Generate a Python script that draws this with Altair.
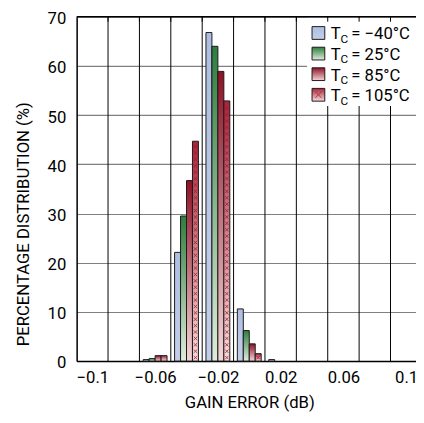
import altair as alt
import pandas as pd

# ---- data ----
bin_centers = [-0.06, -0.04, -0.02, 0.0, 0.02]
pct_m40 = [0.3, 22.1, 66.8, 10.6, 0.3]
pct_25 = [0.5, 29.5, 64.0, 6.2, 0.0]
pct_85 = [1.1, 36.7, 58.9, 3.5, 0.0]
pct_105 = [1.1, 44.7, 52.9, 1.5, 0.0]
series_labels = ["= \u221240\u00b0C", "= 25\u00b0C", "= 85\u00b0C", "= 105\u00b0C"]
x_label_values = [-0.1, -0.06, -0.02, 0.02, 0.06, 0.1]
x_grid_values = [-0.09, -0.07, -0.05, -0.03, -0.01, 0.01, 0.03, 0.05, 0.07, 0.09]
y_tick_values = [0, 10, 20, 30, 40, 50, 60, 70]

FONT = "Roboto"
W, H = 346, 351
BAR_W = 0.0038

xscale = alt.Scale(domain=[-0.11, 0.10625], nice=False, zero=False)
yscale = alt.Scale(domain=[0, 70], nice=False)

xaxis = alt.Axis(values=x_label_values, format=".2~f", title="GAIN ERROR (dB)",
                 grid=False, ticks=False, domain=True, domainColor="black", domainWidth=1.5,
                 labelFontSize=17, labelPadding=9, labelColor="black", labelFont=FONT,
                 titleFontSize=17, titleFontWeight="normal", titleFont=FONT, titleColor="black",
                 titleX=176, titleY=47, titleBaseline="alphabetic", titleAlign="center",
                 labelFlush=False, labelOverlap=False)
yaxis = alt.Axis(values=y_tick_values, title="PERCENTAGE DISTRIBUTION (%)",
                 grid=True, gridColor="#808080", gridWidth=1.1, ticks=False,
                 domain=True, domainColor="black", domainWidth=1.5,
                 labelFontSize=17, labelPadding=11, labelOffset=2, labelColor="black", labelFont=FONT,
                 titleFontSize=17, titleFontWeight="normal", titleFont=FONT, titleColor="black",
                 titleX=-54, titleY=211, titleAngle=270, titleBaseline="middle", titleAlign="center")

def grad(top, bottom):
    return alt.Gradient(gradient="linear",
                        stops=[alt.GradientStop(color=top, offset=0),
                               alt.GradientStop(color=bottom, offset=1)],
                        x1=0, x2=0, y1=0, y2=1)

fills = [grad("#aebee1", "#c3cfea"), grad("#2f7d3e", "#e0eddb"),
         grad("#8e1226", "#f4d6d6"), grad("#a8243a", "#f6dada")]

all_series = [pct_m40, pct_25, pct_85, pct_105]

layers = []

# vertical grid lines
grid_df = pd.DataFrame({"xv": x_grid_values})
layers.append(alt.Chart(grid_df).mark_rule(color="black", strokeWidth=1).encode(
    x=alt.X("xv:Q", scale=xscale, axis=xaxis),
    y=alt.value(0), y2=alt.value(H)))

for k, vals in enumerate(all_series):
    df = pd.DataFrame({"bin": bin_centers, "yv": vals, "k": k})
    bar = alt.Chart(df).transform_filter("datum.yv > 0").transform_calculate(
        xv=f"datum.bin - 2*{BAR_W} + datum.k*{BAR_W}",
        xv2=f"datum.bin - 2*{BAR_W} + (datum.k+1)*{BAR_W}",
    ).mark_bar(fill=fills[k], stroke="#1a1a1a", strokeWidth=1).encode(
        x=alt.X("xv:Q", scale=xscale, axis=xaxis),
        x2="xv2:Q",
        y=alt.Y("yv:Q", scale=yscale, axis=yaxis),
        y2=alt.datum(0))
    layers.append(bar)

# crosshatch marks on the 105 C bars
hatch_df = pd.DataFrame({"bin": bin_centers, "top": pct_105, "k": 3})
xshape = "M-1,-1L1,1M-1,1L1,-1"
layers.append(alt.Chart(hatch_df).transform_filter("datum.top > 1.2").transform_calculate(
    seq="sequence(0.7, datum.top - 0.4, 1.3)"
).transform_flatten(["seq"]).transform_calculate(
    yv="datum.seq", xv=f"datum.bin - 2*{BAR_W} + 3.5*{BAR_W}"
).mark_point(shape=xshape, size=12, filled=False, color="#a3122c", strokeWidth=0.9, opacity=0.85).encode(
    x=alt.X("xv:Q", scale=xscale, axis=xaxis),
    y=alt.Y("yv:Q", scale=yscale, axis=yaxis)))

one = pd.DataFrame({"a": [0]})
# legend background
layers.append(alt.Chart(one).mark_rect(fill="white").encode(
    x=alt.value(235), x2=alt.value(W), y=alt.value(1), y2=alt.value(91)))
# inner tick marks on the top frame
layers.append(alt.Chart(grid_df).mark_rule(color="black", strokeWidth=1).encode(
    x=alt.X("xv:Q", scale=xscale, axis=xaxis), y=alt.value(0), y2=alt.value(5)))
# top frame
layers.append(alt.Chart(one).mark_rule(color="black", strokeWidth=1.5).encode(
    x=alt.value(0), x2=alt.value(W), y=alt.value(0)))

# legend
for i, lab in enumerate(series_labels):
    ldf = pd.DataFrame({"label": [lab]})
    y0 = 10 + 21 * i
    layers.append(alt.Chart(ldf).mark_rect(fill=fills[i], stroke="#1a1a1a", strokeWidth=1).encode(
        x=alt.value(240), x2=alt.value(253), y=alt.value(y0), y2=alt.value(y0 + 13)))
    if i == 3:
        layers.append(alt.Chart(ldf).mark_point(shape=xshape, size=40, filled=False,
                                                 color="#a3122c", strokeWidth=1).encode(
            x=alt.value(246.5), y=alt.value(y0 + 6.5)))
    layers.append(alt.Chart(ldf).mark_text(text="T", font=FONT, fontSize=17, align="left",
                                            baseline="alphabetic", color="black").encode(
        x=alt.value(259), y=alt.value(y0 + 13)))
    layers.append(alt.Chart(ldf).mark_text(text="C", font=FONT, fontSize=12, align="left",
                                            baseline="alphabetic", color="black").encode(
        x=alt.value(269), y=alt.value(y0 + 16.5)))
    layers.append(alt.Chart(ldf).mark_text(font=FONT, fontSize=17, align="left",
                                            baseline="alphabetic", color="black").encode(
        x=alt.value(280), y=alt.value(y0 + 13), text="label:N"))

chart = alt.layer(*layers).properties(
    width=W, height=H,
    autosize=alt.AutoSizeParams(type="none"),
    padding={"left": 70, "top": 5, "right": 0, "bottom": 50},
).configure_view(stroke=None).configure(background="white")

chart.save("out.html", embed_options={"renderer": "svg", "actions": False})
